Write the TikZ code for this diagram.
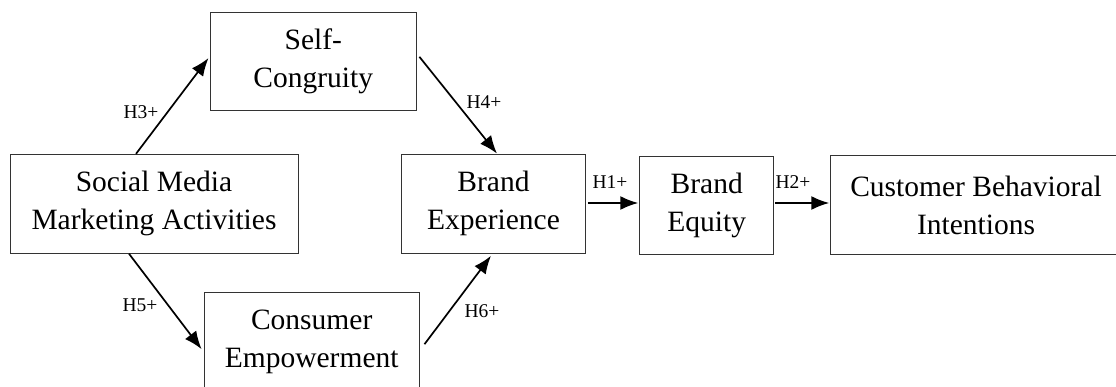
\documentclass[tikz,border=0pt]{standalone}
\usepackage{fontspec}
\setmainfont{Liberation Serif}
\usetikzlibrary{arrows.meta,calc}
\begin{document}
\begin{tikzpicture}[x=1pt,y=-1pt,
  box/.style={draw=black!80,line width=0.9pt,inner sep=0pt,align=center,
    font=\fontsize{29.5}{38}\selectfont},
  arr/.style={line width=1.7pt,-{Latex[length=18pt,width=14pt]}},
  hyp/.style={font=\fontsize{19.5}{22}\selectfont,inner sep=0pt}]
\useasboundingbox (0,0) rectangle (1116,387);
\node[box,minimum width=205.3pt,minimum height=98.3pt] (sc) at (313.3,61.8) {Self-\\Congruity};
\node[box,minimum width=288pt,minimum height=99pt] (smma) at (154,203.8) {Social Media\\Marketing Activities};
\node[box,minimum width=183.6pt,minimum height=99.3pt] (be) at (493.5,203.7) {Brand\\Experience};
\node[box,minimum width=134pt,minimum height=98.3pt] (eq) at (706.7,205.8) {Brand\\Equity};
\node[box,minimum width=290.6pt,minimum height=99.3pt] (cbi) at (976,205.3) {Customer Behavioral\\Intentions};
\node[box,minimum width=215.3pt,minimum height=99pt] (ce) at (311.7,342.2) {Consumer\\Empowerment};
\draw[arr] ($(smma.north)+(-18,0)$) -- ($(sc.west)+(-1.7,-3.8)$);
\draw[arr] ($(smma.south)+(-25,0)$) -- ($(ce.west)+(-2,7)$);
\draw[arr] ($(sc.east)+(3,-5)$) -- ($(be.north)+(3.5,0)$);
\draw[arr] ($(ce.east)+(4.7,2)$) -- ($(be.south)+(-2.5,2)$);
\draw[arr] ($(be.east)+(2,-0.7)$) -- ($(eq.west)+(-1,-2.8)$);
\draw[arr] ($(eq.east)+(1,-2.8)$) -- ($(cbi.west)+(-1,-2.3)$);
\node[hyp] (h3) at (141,112) {H3+};
\node[hyp] (h5) at (140,305) {H5+};
\node[hyp] (h4) at (484,102) {H4+};
\node[hyp] (h6) at (482,311) {H6+};
\node[hyp] (h1) at (610,182) {H1+};
\node[hyp] (h2) at (793,182) {H2+};
\end{tikzpicture}
\end{document}
